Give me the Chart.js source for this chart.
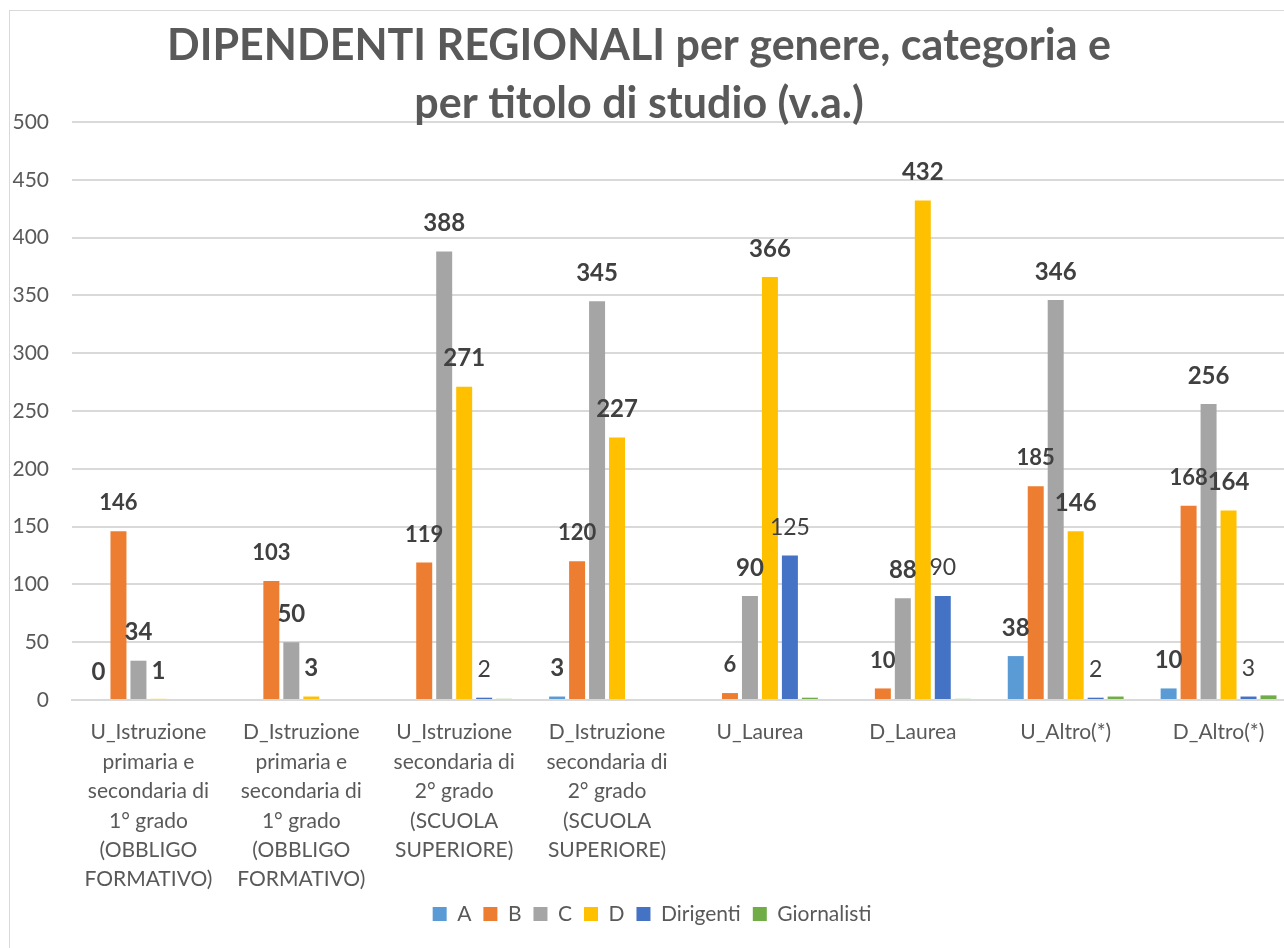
<!DOCTYPE html>
<html>
<head>
<meta charset="utf-8">
<script src="https://cdn.jsdelivr.net/npm/chart.js@4.4.0/dist/chart.umd.min.js"></script>
<style>
  html, body { margin: 0; padding: 0; background: #fff; overflow: hidden; }
  #wrap { position: relative; width: 1284px; height: 948px; overflow: hidden; }
  #frame { position: absolute; left: 9px; top: 10px; width: 1400px; height: 1000px; border: 1px solid #d9d9d9; }
  #bar-chart { position: absolute; left: 0; top: 0; }
</style>
</head>
<body>
<div id="wrap">
  <div id="frame"></div>
  <canvas id="bar-chart" width="1310" height="948"></canvas>
</div>
<script>
// dati
const categories = [
  ["U_Istruzione", "primaria e", "secondaria di", "1° grado", "(OBBLIGO", "FORMATIVO)"],
  ["D_Istruzione", "primaria e", "secondaria di", "1° grado", "(OBBLIGO", "FORMATIVO)"],
  ["U_Istruzione", "secondaria di", "2° grado", "(SCUOLA", "SUPERIORE)"],
  ["D_Istruzione", "secondaria di", "2° grado", "(SCUOLA", "SUPERIORE)"],
  "U_Laurea", "D_Laurea", "U_Altro(*)", "D_Altro(*)"
];
const catA = [0, null, null, 3, null, null, 38, 10];
const catB = [146, 103, 119, 120, 6, 10, 185, 168];
const catC = [34, 50, 388, 345, 90, 88, 346, 256];
const catD = [1, 3, 271, 227, 366, 432, 146, 164];
const dirigenti = [null, null, 2, null, 125, 90, 2, 3];
const giornalisti = [null, null, 1, null, 2, 1, 3, 4];
const yTicks = [0, 50, 100, 150, 200, 250, 300, 350, 400, 450, 500];
const titleLines = ["DIPENDENTI REGIONALI per genere, categoria e", "per titolo di studio (v.a.)"];

Chart.defaults.font.family = "Lato, 'Open Sans', sans-serif";
Chart.defaults.color = "#595959";

// etichette dei valori sopra le barre
const valueLabels = {
  id: "valueLabels",
  afterDatasetsDraw(chart) {
    const ctx = chart.ctx;
    chart.data.datasets.forEach((ds, i) => {
      if (!ds.labelFont) return;
      chart.getDatasetMeta(i).data.forEach((bar, j) => {
        const v = ds.data[j];
        if (v === null || v === undefined) return;
        ctx.save();
        ctx.font = ds.labelFont;
        ctx.fillStyle = "#404040";
        ctx.textAlign = "center";
        ctx.textBaseline = "middle";
        ctx.fillText(String(v), bar.x, bar.y - 28);
        ctx.restore();
      });
    });
  }
};

// titolo sovrapposto come in Excel
const excelTitle = {
  id: "excelTitle",
  afterDraw(chart) {
    const ctx = chart.ctx;
    ctx.save();
    ctx.font = "bold 43px Lato";
    ctx.fillStyle = "#595959";
    ctx.textAlign = "center";
    ctx.textBaseline = "alphabetic";
    titleLines.forEach((t, k) => ctx.fillText(t, 639, 60 + k * 58));
    ctx.restore();
  }
};

new Chart(document.getElementById("bar-chart"), {
  type: "bar",
  data: {
    labels: categories,
    datasets: [
      { label: "A", data: catA, backgroundColor: "#5B9BD5", labelFont: "bold 24px Lato" },
      { label: "B", data: catB, backgroundColor: "#ED7D31", labelFont: "bold 22px Lato" },
      { label: "C", data: catC, backgroundColor: "#A5A5A5", labelFont: "bold 24px Lato" },
      { label: "D", data: catD, backgroundColor: "#FFC000", labelFont: "bold 24px Lato" },
      { label: "Dirigenti", data: dirigenti, backgroundColor: "#4472C4", labelFont: "23px Lato" },
      { label: "Giornalisti", data: giornalisti, backgroundColor: "#70AD47" }
    ]
  },
  options: {
    responsive: false,
    animation: false,
    categoryPercentage: 0.784,
    barPercentage: 0.8,
    layout: { padding: { left: 9, right: 15, top: 122, bottom: 13.5 } },
    plugins: {
      title: { display: false },
      tooltip: { enabled: false },
      legend: {
        position: "bottom",
        labels: {
          boxWidth: 14,
          boxHeight: 14,
          padding: 12,
          color: "#595959",
          font: { size: 21 }
        }
      }
    },
    scales: {
      x: {
        afterFit: s => { s.height = 191.5; },
        grid: { display: false, drawTicks: false },
        border: { display: true, color: "#d9d9d9", width: 2 },
        ticks: {
          autoSkip: false,
          maxRotation: 0,
          padding: 18,
          color: "#595959",
          font: { size: 21, lineHeight: 1.4 }
        }
      },
      y: {
        min: 0,
        max: 500,
        afterFit: s => { s.width = 63; },
        afterBuildTicks: s => { s.ticks = yTicks.map(v => ({ value: v })); },
        grid: { color: "#d9d9d9", lineWidth: 2, drawTicks: false },
        border: { display: false },
        ticks: {
          padding: 23,
          color: "#595959",
          font: { size: 21 }
        }
      }
    }
  },
  plugins: [valueLabels, excelTitle]
});
</script>
</body>
</html>
